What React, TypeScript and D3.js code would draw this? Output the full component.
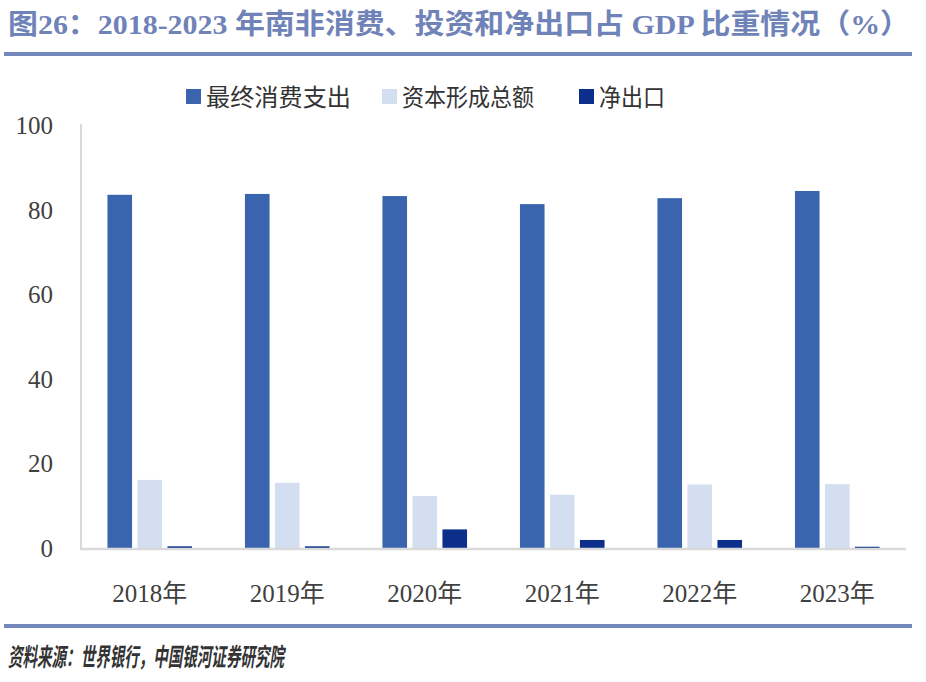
import React from "react";
import * as d3 from "d3";

const categories = ["2018年", "2019年", "2020年", "2021年", "2022年", "2023年"];
const seriesNames = ["最终消费支出", "资本形成总额", "净出口"];
const consumption = [83.5, 83.7, 83.2, 81.3, 82.7, 84.4];
const capital = [16.1, 15.4, 12.3, 12.6, 15.0, 15.1];
const netExports = [0.4, 0.4, 4.4, 1.9, 1.9, 0.3];
const yTicks = [0, 20, 40, 60, 80, 100];
const colors = ["#3a65ae", "#d3def0", "#0b2f8a"];

const W = 926;
const H = 682;
const plotLeft = 81;
const plotRight = 906;
const plotTop = 125;
const plotBottom = 548;

export default function App() {
  const x = d3.scaleBand<string>().domain(categories).range([plotLeft, plotRight]).padding(0);
  const inner = d3
    .scaleBand<string>()
    .domain(seriesNames)
    .range([-42.3, 42.3])
    .paddingInner(0.18)
    .paddingOuter(0);
  const y = d3.scaleLinear().domain([0, 100]).range([plotBottom, plotTop]);
  const series = [consumption, capital, netExports];
  const serif = "'Liberation Serif', 'DejaVu Serif', serif";
  const cjk = "'Liberation Serif', 'Noto Sans CJK SC', serif";

  const legendX = [186, 382, 579];
  const legendLen = [145, 132, 66];

  return (
    <svg width={W} height={H} style={{ position: "absolute", left: 0, top: 0, background: "#fff" }}>
      <text
        x={8}
        y={34}
        fontFamily={cjk}
        fontWeight="bold"
        fontSize={28}
        fill="#7083b8"
        textLength={902}
        lengthAdjust="spacingAndGlyphs"
      >
        图26：2018-2023 年南非消费、投资和净出口占 GDP 比重情况（%）
      </text>
      <rect x={4} y={52} width={908} height={4} fill="#7288bd" />

      {seriesNames.map((name, i) => (
        <g key={name}>
          <rect x={legendX[i]} y={89} width={15} height={15} fill={colors[i]} />
          <text
            x={legendX[i] + 20}
            y={106}
            fontFamily={cjk}
            fontSize={24}
            fill="#333"
            textLength={legendLen[i]}
            lengthAdjust="spacingAndGlyphs"
          >
            {name}
          </text>
        </g>
      ))}

      <line x1={plotLeft} x2={plotLeft} y1={plotTop - 1} y2={plotBottom} stroke="#d9d9d9" strokeWidth={2} />

      {yTicks.map((t) => (
        <text
          key={t}
          x={53}
          y={y(t) + 9}
          textAnchor="end"
          fontFamily={serif}
          fontSize={25}
          fill="#404040"
        >
          {t}
        </text>
      ))}

      {categories.map((c, ci) => {
        const cx = (x(c) as number) + x.bandwidth() / 2;
        return (
          <g key={c}>
            {series.map((vals, si) => (
              <rect
                key={si}
                x={cx + (inner(seriesNames[si]) as number)}
                y={y(vals[ci])}
                width={inner.bandwidth()}
                height={plotBottom - y(vals[ci])}
                fill={colors[si]}
              />
            ))}
            <text
              x={cx}
              y={602}
              textAnchor="middle"
              fontFamily={cjk}
              fontSize={25}
              fill="#404040"
            >
              {c}
            </text>
          </g>
        );
      })}

      <line x1={plotLeft - 1} x2={plotRight} y1={plotBottom + 1} y2={plotBottom + 1} stroke="#d9d9d9" strokeWidth={2.5} />

      <rect x={4} y={624} width={908} height={4} fill="#7288bd" />
      <text
        x={8}
        y={666}
        fontFamily={cjk}
        fontWeight="bold"
        fontStyle="italic"
        fontSize={25}
        fill="#333"
        textLength={276}
        lengthAdjust="spacingAndGlyphs"
      >
        资料来源：世界银行，中国银河证券研究院
      </text>
    </svg>
  );
}
